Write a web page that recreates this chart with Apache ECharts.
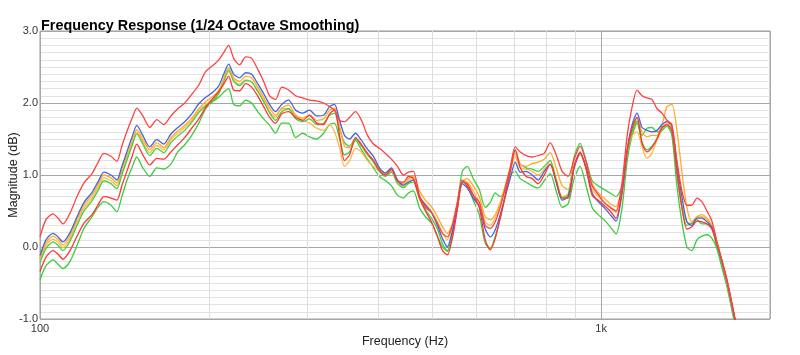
<!DOCTYPE html>
<html>
<head>
<meta charset="utf-8">
<script src="https://cdn.jsdelivr.net/npm/echarts@6/dist/echarts.min.js"></script>
<style>
html,body{margin:0;padding:0;background:#fff;}
#chart{width:800px;height:355px;}
</style>
</head>
<body>
<div id="chart"></div>
<script>
// Frequency grid (Hz)
const freqs = [
100, 102.5, 105.5, 107.7, 109.9, 113.1, 116.4, 119.8, 123.8, 126.8,
130.0, 133.8, 137.1, 139.9, 142.8, 145.8, 148.8, 152.5, 156.9, 161.5,
166.2, 171.1, 176.0, 181.1, 186.4, 191.9, 197.4, 203.2, 208.3, 212.5,
216.9, 221.4, 226.9, 232.5, 238.3, 244.3, 250.4, 256.6, 263.0, 269.6,
277.4, 285.5, 293.8, 302.3, 311.1, 320.2, 328.1, 334.9, 341.9, 348.9,
356.2, 365.0, 374.1, 383.4, 392.9, 402.7, 412.8, 423.0, 433.6, 444.4,
453.6, 462.9, 474.4, 486.3, 498.4, 510.8, 521.4, 532.1, 543.1, 554.4,
565.8, 577.4, 591.8, 606.6, 621.6, 634.6, 647.7, 661.0, 674.7, 688.6,
703.1, 717.6, 735.4, 753.7, 772.6, 791.8, 811.5, 831.6, 852.3, 873.6,
895.3, 917.6, 940.4, 963.8, 987.8, 1012, 1038, 1063, 1090, 1113,
1136, 1159, 1183, 1207, 1232, 1258, 1284, 1310, 1337, 1365,
1393, 1422, 1451, 1482, 1512, 1544, 1576, 1608, 1641, 1676,
1711, 1746
];

const red1 = [
0.14, 0.38, 0.46, 0.40, 0.32, 0.47, 0.70, 0.89, 1.02, 1.17,
1.30, 1.26, 1.19, 1.40, 1.60, 1.78, 1.93, 1.82, 1.66, 1.77,
1.70, 1.82, 1.92, 2.00, 2.12, 2.25, 2.44, 2.52, 2.60, 2.70,
2.80, 2.62, 2.53, 2.64, 2.62, 2.47, 2.30, 2.10, 2.05, 2.22,
2.18, 2.10, 2.07, 2.04, 2.03, 2.00, 1.95, 1.90, 1.76, 1.74,
1.80, 1.88, 1.76, 1.55, 1.43, 1.37, 1.30, 1.22, 1.12, 1.00,
1.04, 1.05, 0.72, 0.55, 0.48, 0.33, 0.19, 0.14, 0.30, 0.62,
0.93, 0.85, 0.72, 0.62, 0.30, 0.26, 0.35, 0.55, 0.82, 1.10,
1.39, 1.32, 1.27, 1.25, 1.27, 1.30, 1.45, 1.28, 1.05, 0.98,
1.22, 1.40, 1.18, 0.85, 0.73, 0.62, 0.55, 0.50, 0.90, 1.55,
1.95, 2.18, 2.10, 2.07, 2.05, 1.92, 1.86, 1.76, 1.70, 1.20,
0.78, 0.58, 0.58, 0.68, 0.63, 0.50, 0.36, 0.08, -0.18, -0.45,
-0.78, -1.12
];

const blue = [
-0.12, 0.10, 0.19, 0.14, 0.07, 0.20, 0.42, 0.62, 0.76, 0.90,
1.04, 1.00, 0.93, 1.12, 1.32, 1.52, 1.69, 1.55, 1.39, 1.49,
1.43, 1.57, 1.66, 1.74, 1.85, 1.99, 2.08, 2.15, 2.24, 2.40,
2.54, 2.40, 2.35, 2.42, 2.40, 2.27, 2.13, 1.98, 1.88, 1.98,
2.04, 1.90, 1.86, 1.90, 1.82, 1.83, 1.95, 1.98, 1.76, 1.55,
1.50, 1.58, 1.48, 1.36, 1.26, 1.10, 1.03, 1.10, 0.93, 0.86,
0.90, 0.93, 0.70, 0.58, 0.48, 0.30, 0.12, 0.00, 0.22, 0.55,
0.88, 0.82, 0.68, 0.56, 0.25, 0.14, 0.24, 0.45, 0.70, 0.95,
1.18, 1.04, 1.05, 1.00, 0.93, 1.05, 1.15, 0.90, 0.65, 0.70,
1.10, 1.30, 1.10, 0.75, 0.63, 0.55, 0.45, 0.36, 0.75, 1.35,
1.70, 1.86, 1.66, 1.62, 1.60, 1.62, 1.70, 1.74, 1.68, 1.15,
0.70, 0.35, 0.30, 0.40, 0.40, 0.35, 0.27, 0.05, -0.20, -0.48,
-0.80, -1.15
];

const orange1 = [
-0.16, 0.06, 0.15, 0.10, 0.03, 0.16, 0.38, 0.58, 0.72, 0.86,
1.00, 0.96, 0.89, 1.08, 1.27, 1.46, 1.63, 1.50, 1.35, 1.45,
1.38, 1.52, 1.61, 1.69, 1.79, 1.92, 2.02, 2.09, 2.18, 2.34,
2.49, 2.35, 2.30, 2.37, 2.35, 2.22, 2.08, 1.93, 1.83, 1.93,
1.97, 1.83, 1.79, 1.83, 1.76, 1.78, 1.90, 1.93, 1.68, 1.40,
1.38, 1.52, 1.42, 1.30, 1.20, 1.08, 1.02, 1.06, 0.92, 0.88,
0.95, 0.98, 0.78, 0.65, 0.56, 0.42, 0.28, 0.19, 0.32, 0.62,
0.90, 0.95, 0.85, 0.70, 0.42, 0.38, 0.45, 0.62, 0.85, 1.10,
1.30, 1.15, 1.12, 1.16, 1.18, 1.22, 1.31, 1.10, 0.85, 0.80,
1.15, 1.30, 1.12, 0.88, 0.75, 0.68, 0.60, 0.56, 0.85, 1.35,
1.68, 1.80, 1.60, 1.53, 1.55, 1.55, 1.70, 1.95, 1.98, 1.62,
1.05, 0.55, 0.35, 0.42, 0.45, 0.40, 0.30, 0.08, -0.20, -0.50,
-0.80, -1.15
];

const orange2 = [
-0.20, 0.02, 0.11, 0.06, -0.01, 0.12, 0.34, 0.54, 0.68, 0.82,
0.96, 0.92, 0.85, 1.04, 1.23, 1.42, 1.60, 1.46, 1.31, 1.41,
1.35, 1.49, 1.58, 1.66, 1.76, 1.89, 1.98, 2.05, 2.14, 2.30,
2.44, 2.32, 2.26, 2.32, 2.30, 2.18, 2.04, 1.88, 1.80, 1.92,
1.92, 1.82, 1.76, 1.72, 1.65, 1.62, 1.70, 1.60, 1.38, 1.12,
1.20, 1.37, 1.32, 1.20, 1.12, 1.05, 1.00, 1.05, 0.90, 0.84,
0.92, 0.95, 0.70, 0.60, 0.50, 0.35, 0.20, 0.10, 0.28, 0.60,
0.92, 0.90, 0.78, 0.62, 0.35, 0.30, 0.40, 0.58, 0.80, 1.05,
1.25, 1.10, 1.08, 1.05, 1.00, 1.08, 1.20, 0.95, 0.70, 0.74,
1.12, 1.28, 1.10, 0.80, 0.70, 0.63, 0.55, 0.48, 0.80, 1.30,
1.55, 1.60, 1.39, 1.23, 1.30, 1.49, 1.62, 1.72, 1.65, 1.10,
0.60, 0.35, 0.33, 0.42, 0.42, 0.38, 0.30, 0.06, -0.22, -0.50,
-0.82, -1.15
];

const green1 = [
-0.22, -0.02, 0.07, 0.02, -0.05, 0.08, 0.30, 0.50, 0.64, 0.78,
0.92, 0.88, 0.81, 1.00, 1.20, 1.40, 1.57, 1.43, 1.27, 1.37,
1.31, 1.45, 1.54, 1.62, 1.73, 1.87, 1.96, 2.03, 2.13, 2.30,
2.46, 2.30, 2.24, 2.31, 2.29, 2.16, 2.02, 1.86, 1.76, 1.88,
1.92, 1.78, 1.74, 1.78, 1.70, 1.72, 1.83, 1.86, 1.64, 1.45,
1.40, 1.50, 1.40, 1.28, 1.18, 1.05, 0.98, 1.04, 0.88, 0.82,
0.88, 0.90, 0.68, 0.52, 0.40, 0.25, 0.05, -0.05, 0.18, 0.60,
1.05, 1.12, 0.95, 0.80, 0.55, 0.62, 0.75, 0.70, 0.78, 1.05,
1.35, 1.15, 1.10, 1.08, 1.05, 1.12, 1.20, 0.92, 0.68, 0.72,
1.25, 1.44, 1.20, 0.92, 0.85, 0.80, 0.75, 0.70, 0.85, 1.30,
1.60, 1.75, 1.55, 1.65, 1.66, 1.60, 1.62, 1.68, 1.58, 1.00,
0.55, 0.30, 0.33, 0.38, 0.32, 0.32, 0.25, 0.00, -0.25, -0.52,
-0.85, -1.20
];

const red2 = [
-0.34, -0.14, -0.05, -0.10, -0.17, -0.05, 0.15, 0.33, 0.45, 0.58,
0.70, 0.68, 0.65, 0.85, 1.05, 1.25, 1.43, 1.28, 1.14, 1.23,
1.22, 1.32, 1.42, 1.52, 1.65, 1.78, 1.94, 2.06, 2.16, 2.26,
2.37, 2.18, 2.17, 2.27, 2.22, 2.10, 1.95, 1.80, 1.72, 1.85,
1.88, 1.80, 1.76, 1.83, 1.72, 1.70, 1.85, 1.90, 1.55, 1.20,
1.28, 1.52, 1.42, 1.30, 1.20, 1.06, 1.00, 1.08, 0.92, 0.90,
0.98, 0.95, 0.68, 0.50, 0.35, 0.15, -0.05, -0.11, 0.12, 0.52,
0.90, 0.88, 0.72, 0.55, 0.10, -0.04, 0.12, 0.40, 0.72, 1.05,
1.35, 1.10, 0.98, 0.95, 0.88, 1.00, 1.15, 0.92, 0.68, 0.68,
1.12, 1.32, 1.08, 0.72, 0.65, 0.58, 0.50, 0.40, 0.78, 1.35,
1.65, 1.80, 1.44, 1.32, 1.38, 1.50, 1.66, 1.70, 1.62, 1.05,
0.55, 0.25, 0.28, 0.36, 0.35, 0.32, 0.25, 0.05, -0.18, -0.46,
-0.80, -1.15
];

const green2 = [
-0.46, -0.26, -0.18, -0.24, -0.30, -0.20, 0.02, 0.26, 0.42, 0.55,
0.63, 0.58, 0.49, 0.70, 0.92, 1.10, 1.25, 1.10, 0.98, 1.10,
1.08, 1.15, 1.32, 1.42, 1.55, 1.72, 1.92, 2.02, 2.08, 2.15,
2.20, 1.98, 1.96, 2.04, 2.00, 1.88, 1.78, 1.69, 1.58, 1.72,
1.72, 1.52, 1.58, 1.53, 1.50, 1.58, 1.70, 1.72, 1.50, 1.28,
1.32, 1.48, 1.35, 1.22, 1.10, 0.98, 0.92, 0.85, 0.72, 0.68,
0.75, 0.78, 0.55, 0.42, 0.33, 0.15, 0.00, -0.06, 0.18, 0.55,
0.92, 0.85, 0.65, 0.45, 0.05, -0.02, 0.15, 0.40, 0.70, 1.00,
1.05, 0.95, 0.90, 0.85, 0.82, 0.92, 1.02, 0.78, 0.55, 0.60,
0.95, 1.12, 0.85, 0.55, 0.45, 0.38, 0.28, 0.18, 0.55, 1.20,
1.55, 1.72, 1.46, 1.35, 1.40, 1.51, 1.66, 1.68, 1.55, 0.85,
0.35, 0.00, -0.05, 0.10, 0.15, 0.17, 0.12, -0.02, -0.28, -0.55,
-0.88, -1.20
];

// Minor vertical grid frequencies
const minorFreqs = [200, 300, 400, 500, 600, 700, 800, 900];

const pair = vals => freqs.map((f, i) => [f, vals[i]]);
const FONT = '"Liberation Sans", Arial, Helvetica, sans-serif';

function curve(data, color, z) {
  return {
    type: 'line', data: pair(data), showSymbol: false, symbol: 'none',
    smooth: 0.25, z: z, clip: true,
    lineStyle: { color: color, width: 1.3 }, silent: true
  };
}

const chart = echarts.init(document.getElementById('chart'), null, { renderer: 'canvas' });
chart.setOption({
  animation: false,
  backgroundColor: '#ffffff',
  textStyle: { fontFamily: FONT },
  title: {
    text: 'Frequency Response (1/24 Octave Smoothing)',
    left: 41, top: 19, padding: 0,
    textStyle: { fontFamily: FONT, fontWeight: 'bold', fontSize: 14.4, color: '#000' }
  },
  grid: {
    left: 40, right: 30, top: 31, bottom: 36,
    containLabel: false, outerBoundsMode: 'none',
    show: true, borderColor: '#9a9a9a', borderWidth: 1, backgroundColor: '#fff'
  },
  xAxis: {
    type: 'log', logBase: 10, min: 100, max: 2000,
    name: 'Frequency (Hz)', nameLocation: 'middle', nameGap: 16, nameMoveOverlap: false,
    nameTextStyle: { fontFamily: FONT, fontSize: 12.5, color: '#222' },
    axisLine: { show: false }, axisTick: { show: false },
    axisLabel: {
      margin: 4, fontSize: 11, color: '#333', fontFamily: FONT,
      formatter: v => { const r = Math.round(v); return r === 100 ? '100' : (r === 1000 ? '1k' : ''); }
    },
    splitLine: { show: true, lineStyle: { color: '#a8a8a8', width: 1 } }
  },
  yAxis: {
    type: 'value', min: -1, max: 3, interval: 1,
    name: 'Magnitude (dB)', nameLocation: 'middle', nameGap: 20, nameRotate: 90, nameMoveOverlap: false,
    nameTextStyle: { fontFamily: FONT, fontSize: 12.5, color: '#222' },
    axisLine: { show: false }, axisTick: { show: false },
    axisLabel: { margin: 2, fontSize: 11, color: '#333', fontFamily: FONT, formatter: v => v.toFixed(1) },
    splitLine: { show: true, lineStyle: { color: '#a6a6a6', width: 1 } },
    minorTick: { show: false, splitNumber: 10 },
    minorSplitLine: { show: true, lineStyle: { color: '#e3e3e3', width: 1 } }
  },
  series: [
    {
      type: 'line', data: [], z: 1, silent: true,
      markLine: {
        silent: true, symbol: 'none', label: { show: false }, animation: false,
        lineStyle: { color: '#dedede', width: 1, type: 'solid' },
        data: minorFreqs.map(f => ({ xAxis: f }))
      }
    },
    curve(green2, '#3ccb3c', 3),
    curve(orange2, '#ffb845', 4),
    curve(green1, '#42cf42', 5),
    curve(orange1, '#ffaa2a', 6),
    curve(blue, '#4463dc', 7),
    curve(red2, '#ff3535', 8),
    curve(red1, '#ff4040', 9)
  ]
});
</script>
</body>
</html>
